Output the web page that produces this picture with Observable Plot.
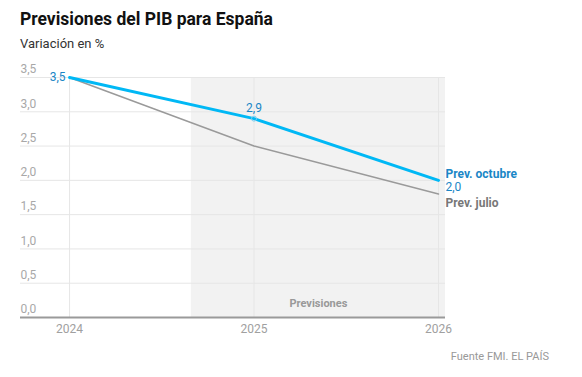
<!DOCTYPE html>
<html><head><meta charset="utf-8">
<script src="https://cdn.jsdelivr.net/npm/d3@7"></script>
<script src="https://cdn.jsdelivr.net/npm/@observablehq/plot@0.6"></script>
<style>
body{margin:0;background:#fff;font-family:Roboto,"Liberation Sans",sans-serif;width:582px;height:377px;overflow:hidden;position:relative}
#title{position:absolute;left:20px;top:8px;font-size:17.5px;font-weight:700;color:#111;line-height:22px}
#sub{position:absolute;left:20px;top:36px;font-size:13px;color:#333;line-height:16px}
#chart{position:absolute;left:0;top:52px}
#cap{position:absolute;right:33px;top:350px;font-size:11px;color:#999;line-height:14px}
</style></head>
<body>
<div id="title">Previsiones del PIB para España</div>
<div id="sub">Variación en %</div>
<div id="chart"></div>
<div id="cap">Fuente FMI. EL PAÍS</div>
<script>
const years = [2024, 2025, 2026];
const octubre = [3.5, 2.9, 2.0];
const julio = [3.5, 2.5, 1.8];
const yTicks = [0, 0.5, 1, 1.5, 2, 2.5, 3, 3.5];
const yTickLabels = ["0,0", "0,5", "1,0", "1,5", "2,0", "2,5", "3,0", "3,5"];
const xTickLabels = ["2024", "2025", "2026"];
const xMin = 2023.734, xMax = 2026.038;
const forecastStart = 2024.66;

const oct = years.map((x, i) => ({x, y: octubre[i]}));
const jul = years.map((x, i) => ({x, y: julio[i]}));
const grid = yTicks.map((y, i) => ({y, label: yTickLabels[i], x1: xMin, x2: xMax}));
const xt = years.map((x, i) => ({x, label: xTickLabels[i], y: 0, y1: 0, y2: 3.5}));
const shade = [{x1: forecastStart, x2: xMax, y1: 0, y2: 3.5}];

const blue = "#00b8f5", blueText = "#1a86c6", grayLine = "#9a9a9a";

const chart = Plot.plot({
  width: 582, height: 290,
  marginLeft: 20, marginRight: 137, marginTop: 25, marginBottom: 25,
  x: {domain: [xMin, xMax], axis: null},
  y: {domain: [0, 3.5], axis: null},
  style: {fontFamily: "Roboto, 'Liberation Sans', sans-serif", background: "white"},
  marks: [
    Plot.rect(shade, {x1: "x1", x2: "x2", y1: "y1", y2: "y2", fill: "#f2f2f2"}),
    Plot.ruleY(grid.filter(d => d.y > 0), {y: "y", x1: "x1", x2: "x2", stroke: "#e6e6e6", strokeWidth: 1}),
    Plot.ruleX(xt, {x: "x", y1: "y1", y2: "y2", stroke: "#e6e6e6", strokeWidth: 1}),
    Plot.ruleY(grid.filter(d => d.y === 0), {y: "y", x1: "x1", x2: "x2", stroke: "#9a9a9a", strokeWidth: 2}),
    Plot.text(grid, {x: "x1", y: "y", text: "label", textAnchor: "start", dy: -8, fill: "#a8a8a8", fontSize: 12}),
    Plot.text(xt, {x: "x", y: "y", text: "label", dy: 12, fill: "#a0a0a0", fontSize: 12}),
    Plot.text([{x: (forecastStart + xMax) / 2, y: 0, t: "Previsiones"}], {x: "x", y: "y", text: "t", dy: -14, fill: "#999", fontSize: 11, fontWeight: 700}),
    Plot.line(jul, {x: "x", y: "y", stroke: grayLine, strokeWidth: 1.5}),
    Plot.line(oct, {x: "x", y: "y", stroke: blue, strokeWidth: 3}),
    Plot.dot([oct[1]], {x: "x", y: "y", r: 2.5, stroke: "#7fcff0", fill: "none", strokeWidth: 1}),
    Plot.text([oct[0]], {x: "x", y: "y", text: d => "3,5", textAnchor: "end", dx: -4, fill: blueText, fontSize: 12}),
    Plot.text([oct[1]], {x: "x", y: "y", text: d => "2,9", dy: -10, fill: blueText, fontSize: 12}),
    Plot.text([oct[2]], {x: "x", y: "y", text: d => "Prev. octubre", textAnchor: "start", dx: 7, dy: -6, fill: blueText, fontSize: 12, fontWeight: 700}),
    Plot.text([oct[2]], {x: "x", y: "y", text: d => "2,0", textAnchor: "start", dx: 7, dy: 7, fill: blueText, fontSize: 12}),
    Plot.text([jul[2]], {x: "x", y: "y", text: d => "Prev. julio", textAnchor: "start", dx: 7, dy: 9, fill: "#777", fontSize: 12, fontWeight: 700})
  ]
});
document.getElementById("chart").appendChild(chart);
</script>
</body></html>
